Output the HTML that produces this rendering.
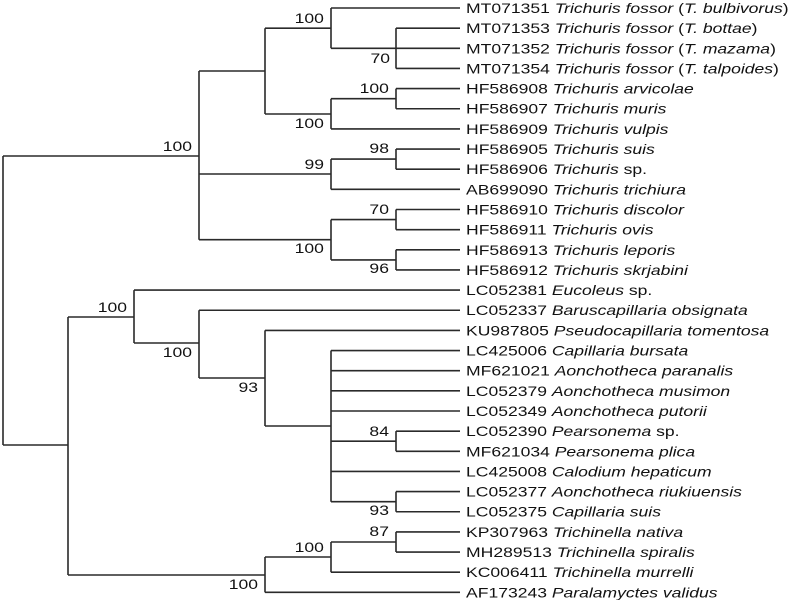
<!DOCTYPE html>
<html><head><meta charset="utf-8"><style>
html,body{margin:0;padding:0;background:#fff;}
svg{display:block;}
text{font-family:"Liberation Sans",Arial,sans-serif;font-size:13.5px;fill:#111;}
.l{text-anchor:end;}
</style></head><body>
<svg width="800" height="600" viewBox="0 0 800 600">
<path fill="none" stroke="#2a2a2a" stroke-width="1.6" d="
M396 28.15V68.45 M396 28.15H460 M331 48.3H460 M396 68.45H460
M331 8V48.3 M331 8H460
M396 88.6V108.75 M396 88.6H460 M396 108.75H460
M331 98.7V128.9 M331 98.7H396 M331 128.9H460
M265 28.2V114 M265 28.2H331 M265 114H331
M396 149.05V169.2 M396 149.05H460 M396 169.2H460
M331 159.1V189.35 M331 159.1H396 M331 189.35H460
M396 209.5V229.65 M396 209.5H460 M396 229.65H460
M396 249.8V269.95 M396 249.8H460 M396 269.95H460
M331 219.6V259.9 M331 219.6H396 M331 259.9H396
M199 71V239.7 M199 71H265 M199 174H331 M199 239.7H331
M3 156V445 M3 156H199 M3 445H68
M68 317V575 M68 317H134 M68 575H265
M134 290.1V343 M134 290.1H460 M134 343H199
M199 310.25V378 M199 310.25H460 M199 378H265
M265 330.4V426 M265 330.4H460 M265 426H331
M331 350.55V501.7 M331 350.55H460 M331 370.7H460 M331 390.85H460 M331 411H460 M331 441.2H396 M331 471.45H460 M331 501.7H396
M396 431.15V451.3 M396 431.15H460 M396 451.3H460
M396 491.6V511.75 M396 491.6H460 M396 511.75H460
M396 531.9V552.05 M396 531.9H460 M396 552.05H460
M331 542V572.2 M331 542H396 M331 572.2H460
M265 557V592.35 M265 557H331 M265 592.35H460
"/>
<g transform="scale(1.3,1)">
<text x="358.5" y="13">MT071351 <tspan font-style="italic">Trichuris fossor</tspan> (<tspan font-style="italic">T. bulbivorus</tspan>)</text>
<text x="358.5" y="33.15">MT071353 <tspan font-style="italic">Trichuris fossor</tspan> (<tspan font-style="italic">T. bottae</tspan>)</text>
<text x="358.5" y="53.3">MT071352 <tspan font-style="italic">Trichuris fossor</tspan> (<tspan font-style="italic">T. mazama</tspan>)</text>
<text x="358.5" y="73.45">MT071354 <tspan font-style="italic">Trichuris fossor</tspan> (<tspan font-style="italic">T. talpoides</tspan>)</text>
<text x="358.5" y="93.6">HF586908 <tspan font-style="italic">Trichuris arvicolae</tspan></text>
<text x="358.5" y="113.75">HF586907 <tspan font-style="italic">Trichuris muris</tspan></text>
<text x="358.5" y="133.9">HF586909 <tspan font-style="italic">Trichuris vulpis</tspan></text>
<text x="358.5" y="154.05">HF586905 <tspan font-style="italic">Trichuris suis</tspan></text>
<text x="358.5" y="174.2">HF586906 <tspan font-style="italic">Trichuris</tspan> sp.</text>
<text x="358.5" y="194.35">AB699090 <tspan font-style="italic">Trichuris trichiura</tspan></text>
<text x="358.5" y="214.5">HF586910 <tspan font-style="italic">Trichuris discolor</tspan></text>
<text x="358.5" y="234.65">HF586911 <tspan font-style="italic">Trichuris ovis</tspan></text>
<text x="358.5" y="254.8">HF586913 <tspan font-style="italic">Trichuris leporis</tspan></text>
<text x="358.5" y="274.95">HF586912 <tspan font-style="italic">Trichuris skrjabini</tspan></text>
<text x="358.5" y="295.1">LC052381 <tspan font-style="italic">Eucoleus</tspan> sp.</text>
<text x="358.5" y="315.25">LC052337 <tspan font-style="italic">Baruscapillaria obsignata</tspan></text>
<text x="358.5" y="335.4">KU987805 <tspan font-style="italic">Pseudocapillaria tomentosa</tspan></text>
<text x="358.5" y="355.55">LC425006 <tspan font-style="italic">Capillaria bursata</tspan></text>
<text x="358.5" y="375.7">MF621021 <tspan font-style="italic">Aonchotheca paranalis</tspan></text>
<text x="358.5" y="395.85">LC052379 <tspan font-style="italic">Aonchotheca musimon</tspan></text>
<text x="358.5" y="416">LC052349 <tspan font-style="italic">Aonchotheca putorii</tspan></text>
<text x="358.5" y="436.15">LC052390 <tspan font-style="italic">Pearsonema</tspan> sp.</text>
<text x="358.5" y="456.3">MF621034 <tspan font-style="italic">Pearsonema plica</tspan></text>
<text x="358.5" y="476.45">LC425008 <tspan font-style="italic">Calodium hepaticum</tspan></text>
<text x="358.5" y="496.6">LC052377 <tspan font-style="italic">Aonchotheca riukiuensis</tspan></text>
<text x="358.5" y="516.75">LC052375 <tspan font-style="italic">Capillaria suis</tspan></text>
<text x="358.5" y="536.9">KP307963 <tspan font-style="italic">Trichinella nativa</tspan></text>
<text x="358.5" y="557.05">MH289513 <tspan font-style="italic">Trichinella spiralis</tspan></text>
<text x="358.5" y="577.2">KC006411 <tspan font-style="italic">Trichinella murrelli</tspan></text>
<text x="358.5" y="597.35">AF173243 <tspan font-style="italic">Paralamyctes validus</tspan></text>

<text class="l" x="249.2" y="23">100</text>
<text class="l" x="300" y="63">70</text>
<text class="l" x="299.2" y="93">100</text>
<text class="l" x="249.2" y="128">100</text>
<text class="l" x="147.7" y="151">100</text>
<text class="l" x="299.2" y="153">98</text>
<text class="l" x="249.2" y="169">99</text>
<text class="l" x="299.2" y="214">70</text>
<text class="l" x="249.2" y="253">100</text>
<text class="l" x="299.2" y="273">96</text>
<text class="l" x="97.7" y="312">100</text>
<text class="l" x="147.7" y="357">100</text>
<text class="l" x="198.5" y="392">93</text>
<text class="l" x="299.2" y="436">84</text>
<text class="l" x="299.2" y="515">93</text>
<text class="l" x="299.2" y="536">87</text>
<text class="l" x="249.2" y="552">100</text>
<text class="l" x="198.5" y="589">100</text>
</g>
</svg>
</body></html>
